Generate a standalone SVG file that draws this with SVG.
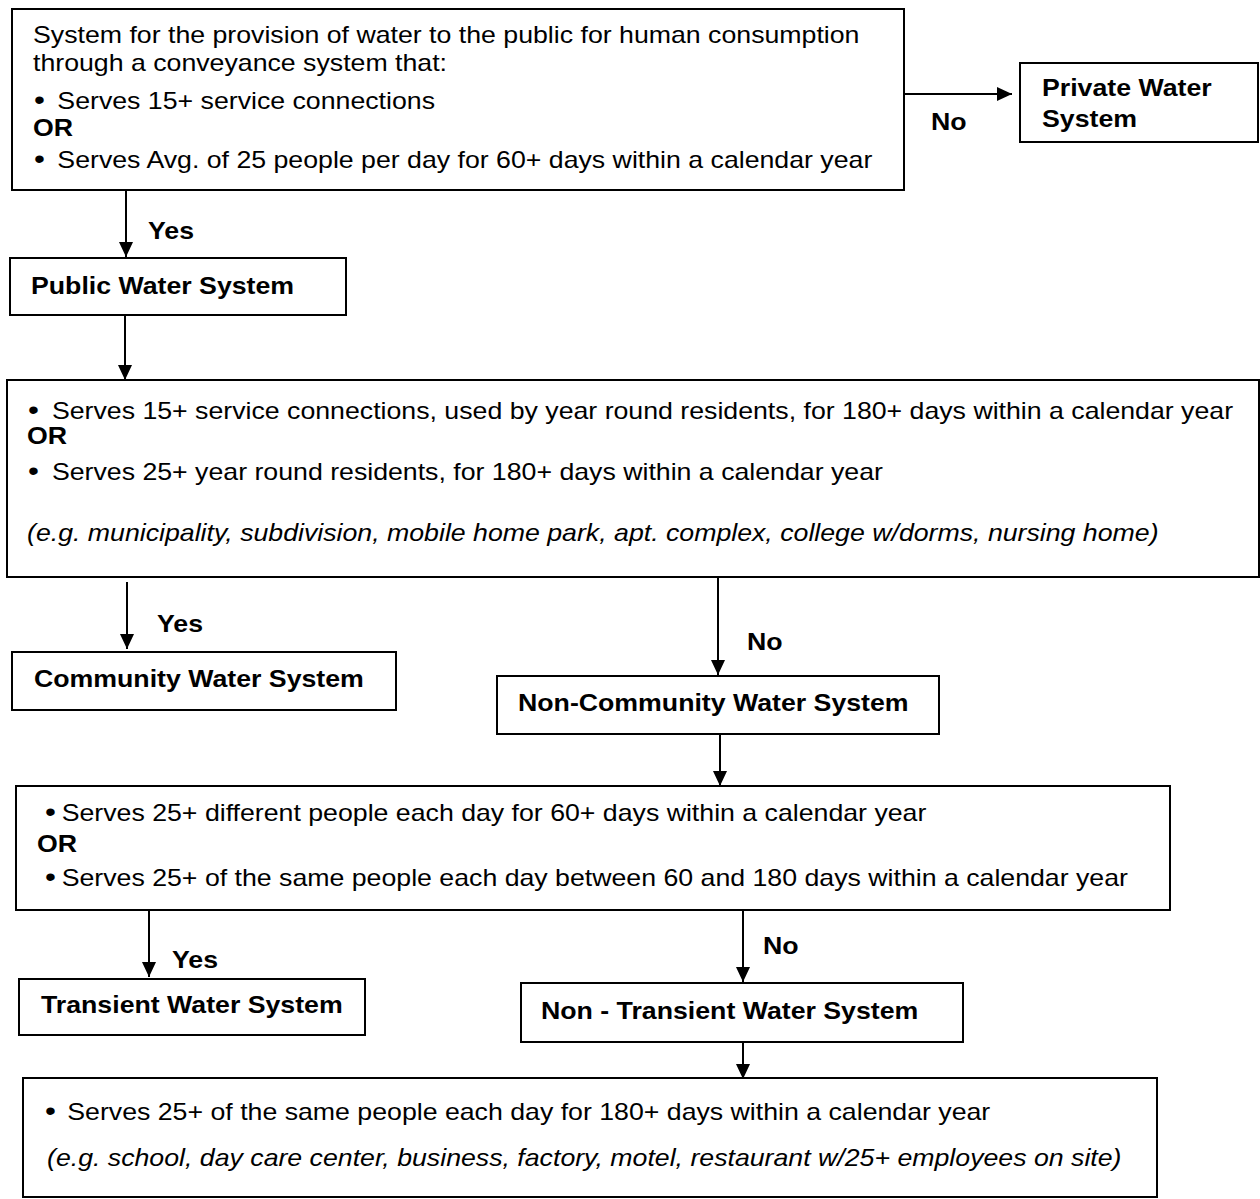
<svg xmlns="http://www.w3.org/2000/svg" width="1260" height="1199" viewBox="0 0 1260 1199">
<style>
.box{fill:#fff;stroke:#000;stroke-width:2}
.t{font-family:"Liberation Sans",Arial,sans-serif;font-size:24px;fill:#000}
.b{font-weight:bold}
.i{font-style:italic}
.bu{font-size:28px}
.conn line{stroke:#000;stroke-width:2;marker-end:url(#ah)}
</style>
<defs>
<marker id="ah" markerUnits="userSpaceOnUse" markerWidth="14" markerHeight="15" refX="15" refY="7" orient="auto">
<path d="M0,0 L15,7 L0,14 z" fill="#000"/>
</marker>
</defs>
<rect width="1260" height="1199" fill="#fff"/>

<g id="connectors" class="conn">
<line x1="904" y1="94" x2="1012" y2="94"/>
<line x1="126" y1="190" x2="126" y2="257"/>
<line x1="125" y1="315" x2="125" y2="380"/>
<line x1="127" y1="582" x2="127" y2="649"/>
<line x1="718" y1="577" x2="718" y2="675"/>
<line x1="720" y1="734" x2="720" y2="786"/>
<line x1="149" y1="910" x2="149" y2="977"/>
<line x1="743" y1="910" x2="743" y2="982"/>
<line x1="743" y1="1042" x2="743" y2="1079"/>
</g>

<g id="labels">
<text class="t b" transform="translate(931,130) scale(1.113,1)">No</text>
<text class="t b" transform="translate(148,239) scale(1.113,1)">Yes</text>
<text class="t b" transform="translate(157,632) scale(1.113,1)">Yes</text>
<text class="t b" transform="translate(747,650) scale(1.113,1)">No</text>
<text class="t b" transform="translate(172,968) scale(1.113,1)">Yes</text>
<text class="t b" transform="translate(763,954) scale(1.113,1)">No</text>
</g>

<g id="n-definition">
<rect class="box" x="12" y="9" width="892" height="181"/>
<text class="t" transform="translate(33,43) scale(1.113,1)">System for the provision of water to the public for human consumption</text>
<text class="t" transform="translate(33,71) scale(1.113,1)">through a conveyance system that:</text>
<text class="t" transform="translate(34,109) scale(1.113,1)"><tspan class="bu">•</tspan><tspan x="21">Serves 15+ service connections</tspan></text>
<text class="t b" transform="translate(33,136) scale(1.113,1)">OR</text>
<text class="t" transform="translate(34,168) scale(1.113,1)"><tspan class="bu">•</tspan><tspan x="21">Serves Avg. of 25 people per day for 60+ days within a calendar year</tspan></text>
</g>

<g id="n-private">
<rect class="box" x="1020" y="63" width="238" height="79"/>
<text class="t b" transform="translate(1042,96) scale(1.113,1)">Private Water</text>
<text class="t b" transform="translate(1042,127) scale(1.113,1)">System</text>
</g>

<g id="n-public">
<rect class="box" x="10" y="258" width="336" height="57"/>
<text class="t b" transform="translate(31,294) scale(1.113,1)">Public Water System</text>
</g>

<g id="n-community-test">
<rect class="box" x="7" y="380" width="1252" height="197"/>
<text class="t" transform="translate(28,419) scale(1.113,1)"><tspan class="bu">•</tspan><tspan x="21.5">Serves 15+ service connections, used by year round residents, for 180+ days within a calendar year</tspan></text>
<text class="t b" transform="translate(27,444) scale(1.113,1)">OR</text>
<text class="t" transform="translate(28,480) scale(1.113,1)"><tspan class="bu">•</tspan><tspan x="21.5">Serves 25+ year round residents, for 180+ days within a calendar year</tspan></text>
<text class="t i" transform="translate(27,541) scale(1.113,1)">(e.g. municipality, subdivision, mobile home park, apt. complex, college w/dorms, nursing home)</text>
</g>

<g id="n-community">
<rect class="box" x="12" y="652" width="384" height="58"/>
<text class="t b" transform="translate(34,687) scale(1.113,1)">Community Water System</text>
</g>

<g id="n-noncommunity">
<rect class="box" x="497" y="676" width="442" height="58"/>
<text class="t b" transform="translate(518,711) scale(1.113,1)">Non-Community Water System</text>
</g>

<g id="n-transient-test">
<rect class="box" x="16" y="786" width="1154" height="124"/>
<text class="t" transform="translate(45,821) scale(1.113,1)"><tspan class="bu">•</tspan><tspan x="15">Serves 25+ different people each day for 60+ days within a calendar year</tspan></text>
<text class="t b" transform="translate(37,852) scale(1.113,1)">OR</text>
<text class="t" transform="translate(45,886) scale(1.113,1)"><tspan class="bu">•</tspan><tspan x="15">Serves 25+ of the same people each day between 60 and 180 days within a calendar year</tspan></text>
</g>

<g id="n-transient">
<rect class="box" x="19" y="979" width="346" height="56"/>
<text class="t b" transform="translate(41,1013) scale(1.113,1)">Transient Water System</text>
</g>

<g id="n-nontransient">
<rect class="box" x="521" y="983" width="442" height="59"/>
<text class="t b" transform="translate(541,1019) scale(1.113,1)">Non - Transient Water System</text>
</g>

<g id="n-nontransient-def">
<rect class="box" x="23" y="1078" width="1134" height="119"/>
<text class="t" transform="translate(45,1120) scale(1.113,1)"><tspan class="bu">•</tspan><tspan x="20">Serves 25+ of the same people each day for 180+ days within a calendar year</tspan></text>
<text class="t i" transform="translate(47,1166) scale(1.113,1)">(e.g. school, day care center, business, factory, motel, restaurant w/25+ employees on site)</text>
</g>
</svg>
